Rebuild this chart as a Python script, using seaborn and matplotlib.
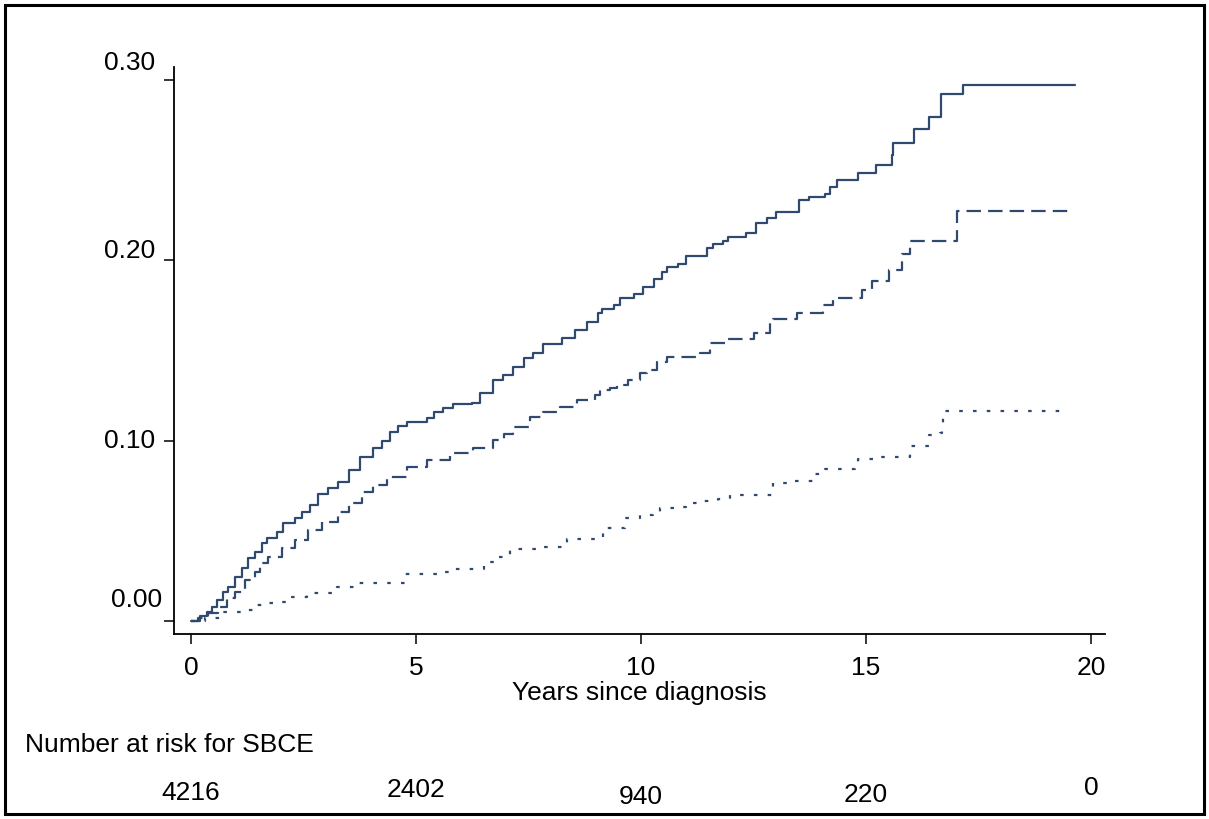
import matplotlib
matplotlib.use("Agg")
import matplotlib.pyplot as plt
import matplotlib.transforms as mtransforms
from matplotlib.patches import Rectangle
import seaborn as sns
import pandas as pd

# ---- data ----
solid_t = [0, 0.2, 0.35, 0.46, 0.57, 0.72, 0.83, 0.98, 1.13, 1.27, 1.42, 1.57, 1.68, 1.9,
           2.05, 2.31, 2.46, 2.64, 2.83, 3.05, 3.27, 3.5, 3.76, 4.05, 4.25, 4.42, 4.6, 4.79,
           5.24, 5.39, 5.6, 5.83, 6.24, 6.42, 6.72, 6.94, 7.16, 7.39, 7.61, 7.83, 8.24, 8.53,
           8.79, 9.05, 9.13, 9.39, 9.53, 9.85, 10.04, 10.29, 10.46, 10.57, 10.83, 11.01, 11.47,
           11.61, 11.82, 11.93, 12.33, 12.55, 12.79, 13.01, 13.51, 13.74, 14.09, 14.2, 14.36,
           14.82, 15.22, 15.58, 15.6, 16.07, 16.4, 16.66, 17.15, 19.64]
solid_v = [0, 0.0028, 0.0052, 0.0079, 0.0116, 0.0163, 0.019, 0.0246, 0.0292, 0.0348, 0.0384,
           0.0431, 0.0459, 0.0495, 0.0542, 0.057, 0.0606, 0.0643, 0.0704, 0.0736, 0.0773,
           0.0837, 0.0911, 0.0958, 0.1, 0.105, 0.108, 0.1105, 0.1124, 0.1161, 0.118, 0.1204,
           0.1211, 0.1263, 0.1337, 0.1364, 0.141, 0.1457, 0.1485, 0.1536, 0.1568, 0.1614,
           0.166, 0.1707, 0.1729, 0.1753, 0.179, 0.1812, 0.1854, 0.1898, 0.1937, 0.1965,
           0.1983, 0.2024, 0.2067, 0.209, 0.2108, 0.2128, 0.215, 0.2205, 0.2238, 0.2266,
           0.2335, 0.235, 0.237, 0.2409, 0.2446, 0.2483, 0.2529, 0.2585, 0.265, 0.2727,
           0.2793, 0.2923, 0.2973, 0.2973]

dashed_t = [0, 0.16, 0.38, 0.61, 0.79, 0.98, 1.2, 1.42, 1.53, 1.72, 2.02, 2.31, 2.61, 2.9,
            3.27, 3.5, 3.79, 4.05, 4.35, 4.79, 5.24, 5.76, 6.27, 6.72, 6.95, 7.16, 7.53, 7.83,
            8.2, 8.57, 8.98, 9.09, 9.31, 9.46, 9.72, 9.98, 10.13, 10.35, 10.57, 11.31, 11.53,
            11.9, 12.5, 12.87, 12.94, 13.46, 14.05, 14.27, 14.9, 15.13, 15.5, 15.79, 15.98,
            17.02, 19.57]
dashed_v = [0, 0.0015, 0.0043, 0.0079, 0.0126, 0.0163, 0.0227, 0.0273, 0.032, 0.0353, 0.0403,
            0.0449, 0.0505, 0.0551, 0.0606, 0.0653, 0.0717, 0.0755, 0.08, 0.0852, 0.0893,
            0.0934, 0.0958, 0.1004, 0.104, 0.1078, 0.113, 0.1161, 0.1189, 0.1226, 0.1253,
            0.1281, 0.1291, 0.1309, 0.1337, 0.1373, 0.1395, 0.1438, 0.1466, 0.1485, 0.1544,
            0.1567, 0.1595, 0.1651, 0.1673, 0.1707, 0.1753, 0.179, 0.1836, 0.1887, 0.1947,
            0.2035, 0.2109, 0.2275, 0.2275]

dotted_t = [0, 0.31, 0.68, 1.16, 1.46, 1.72, 1.9, 2.24, 2.57, 2.72, 3.24, 3.64, 4.76, 5.5,
            5.83, 6.5, 6.79, 7.09, 7.72, 8.35, 9.16, 9.64, 9.98, 10.27, 10.42, 10.83, 11.01,
            11.38, 11.72, 11.98, 12.94, 13.38, 13.87, 14.09, 14.76, 14.83, 15.31, 15.98,
            16.39, 16.64, 16.68, 16.7, 19.35]
dotted_v = [0, 0.0015, 0.0052, 0.0061, 0.0089, 0.0101, 0.0107, 0.0131, 0.0154, 0.0157,
            0.0187, 0.0209, 0.0259, 0.0274, 0.0287, 0.0329, 0.0357, 0.0398, 0.0412, 0.0453,
            0.0514, 0.057, 0.0588, 0.0606, 0.0625, 0.0634, 0.0653, 0.0667, 0.0677, 0.0697,
            0.0765, 0.0775, 0.0815, 0.0841, 0.0871, 0.0897, 0.0911, 0.0971, 0.1032, 0.1041,
            0.1063, 0.1166, 0.1166]

yticks = [0.00, 0.10, 0.20, 0.30]
ytick_labels = ["0.00", "0.10", "0.20", "0.30"]
xticks = [0, 5, 10, 15, 20]
xtick_labels = ["0", "5", "10", "15", "20"]
risk_times = [0, 5, 10, 15, 20]
risk_numbers = ["4216", "2402", "940", "220", "0"]

# ---- style ----
sns.set_theme(style="white")
FONT = ["Liberation Sans", "DejaVu Sans"]
plt.rcParams["font.family"] = FONT

W, H = 1209, 819
fig = plt.figure(figsize=(W / 100, H / 100), dpi=100)
ax = fig.add_axes([174 / W, 1 - 634 / H, (1105 - 174) / W, (634 - 67) / H])

color = "#2f4a6e"
series = [
    (solid_t, solid_v, None),
    (dashed_t, dashed_v, (6.5, 3.2)),
    (dotted_t, dotted_v, (1.6, 4.6)),
]
for t, v, dash in series:
    df = pd.DataFrame({"t": t, "v": v})
    sns.lineplot(data=df, x="t", y="v", ax=ax, estimator=None, sort=False,
                 drawstyle="steps-post", color=color, linewidth=1.6)
    if dash is not None:
        ax.lines[-1].set_dashes(dash)

ax.set_xlim(-0.378, 20.31)
ax.set_ylim(-0.0072, 0.3073)

sns.despine(ax=ax)
for s in ["left", "bottom"]:
    ax.spines[s].set_color("black")
    ax.spines[s].set_linewidth(1.3)

ax.set_xticks(xticks)
ax.set_xticklabels(xtick_labels)
ax.set_yticks(yticks)
ax.set_yticklabels(ytick_labels)
ax.tick_params(axis="both", which="major", direction="out", length=7.5, width=1.1,
               color="black", labelsize=19, labelcolor="black", bottom=True, left=True)
ax.tick_params(axis="x", pad=8)
ax.tick_params(axis="y", pad=6)

# per-label offsets in pixels (matches reference placement)
y_offsets = {"0.00": (7, 24), "0.10": (0, 2), "0.20": (0, 12), "0.30": (0, 20)}
for lab in ax.get_yticklabels():
    dx, dy = y_offsets.get(lab.get_text(), (0, 0))
    lab.set_transform(lab.get_transform() +
                      mtransforms.ScaledTranslation(dx / 100, dy / 100, fig.dpi_scale_trans))

ax.set_xlabel("Years since diagnosis", fontsize=19, color="black", labelpad=1)
ax.set_ylabel("")

# Number at risk table
fig.text(25 / W, 1 - 745 / H, "Number at risk for SBCE", fontsize=19, ha="left",
         va="center", color="black")
risk_y = [793, 790, 797, 795, 788]
trans = mtransforms.blended_transform_factory(ax.transData, fig.transFigure)
for t, n, py in zip(risk_times, risk_numbers, risk_y):
    ax.text(t, 1 - py / H, n, transform=trans, fontsize=19, ha="center", va="center",
            color="black", clip_on=False)

# figure border
fig.patches.append(Rectangle((5 / W, 5 / H), (1204 - 5) / W, (814 - 5) / H,
                             transform=fig.transFigure, fill=False, edgecolor="black",
                             linewidth=2.2, zorder=10))

fig.savefig("out.png", dpi=100)
